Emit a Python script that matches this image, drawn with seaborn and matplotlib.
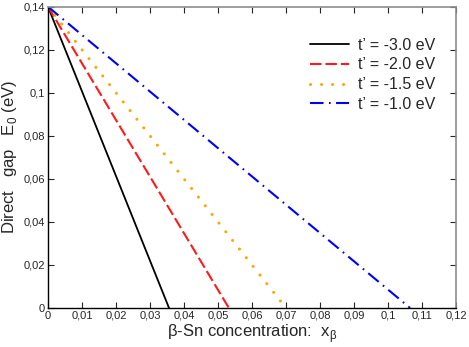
import matplotlib
matplotlib.use("Agg")
import matplotlib.pyplot as plt
import seaborn as sns
import pandas as pd
from matplotlib.ticker import FuncFormatter, MultipleLocator

sns.set_theme(style="ticks")
plt.rcParams['font.family'] = ['Liberation Sans', 'DejaVu Sans']

# data
LABELS = ["t\u2019 = -3.0 eV", "t\u2019 = -2.0 eV", "t\u2019 = -1.5 eV", "t\u2019 = -1.0 eV"]
GAP_START = [0.14, 0.14, 0.14, 0.14]
X_START = [0.0, 0.0, 0.0, 0.0]
X_END = [0.0356, 0.0532, 0.0700, 0.1065]
GAP_END = [0.0, 0.0, 0.0, 0.0]

COLORS = ["black", "#ff1a1a", "#ffa500", "#0000ff"]
STYLES = ["-", (0, (5.5, 1.9)), (0, (0.01, 3.6)), (0, (6.5, 2.6, 0.8, 2.6))]
WIDTHS = [1.3, 1.5, 2.2, 1.5]
CAPS = ["butt", "butt", "round", "butt"]

rows = []
for lab, x0, x1, y0, y1 in zip(LABELS, X_START, X_END, GAP_START, GAP_END):
    rows.append({"x": x0, "gap": y0, "series": lab})
    rows.append({"x": x1, "gap": y1, "series": lab})
df = pd.DataFrame(rows)

fig = plt.figure(figsize=(4.69, 3.47), dpi=100)
ax = fig.add_axes([0.1023, 0.1124, 0.8700, 0.8683])

for i, lab in enumerate(LABELS):
    sub = df[df["series"] == lab]
    sns.lineplot(data=sub, x="x", y="gap", ax=ax, color=COLORS[i],
                 linestyle=STYLES[i], linewidth=WIDTHS[i], label=lab,
                 dash_capstyle=CAPS[i])

ax.set_xlim(0, 0.12)
ax.set_ylim(0, 0.14)
ax.xaxis.set_major_locator(MultipleLocator(0.01))
ax.yaxis.set_major_locator(MultipleLocator(0.02))

def comma(v, pos):
    s = "{:g}".format(round(v, 4))
    return s.replace(".", ",")

ax.xaxis.set_major_formatter(FuncFormatter(comma))
ax.yaxis.set_major_formatter(FuncFormatter(comma))

ax.tick_params(direction="in", length=4, width=0.8, labelsize=8,
               top=True, right=True, pad=2)
for side in ["top", "right"]:
    ax.spines[side].set_color("#8c8c8c")
    ax.spines[side].set_linewidth(1.2)
for side in ["left", "bottom"]:
    ax.spines[side].set_color("black")
    ax.spines[side].set_linewidth(1.0)

ax.set_xlabel("\u03b2-Sn concentration:  x$_{\\mathregular{\u03b2}}$", fontsize=12, labelpad=1)
ax.set_ylabel("Direct   gap   E$_{\\mathregular{0}}$ (eV)", fontsize=12, labelpad=3)

leg = ax.legend(loc="upper right", bbox_to_anchor=(0.985, 0.945), frameon=False,
                fontsize=11.5, handlelength=2.4, labelspacing=0.3,
                handletextpad=0.6)

fig.savefig("out.png", dpi=100)
